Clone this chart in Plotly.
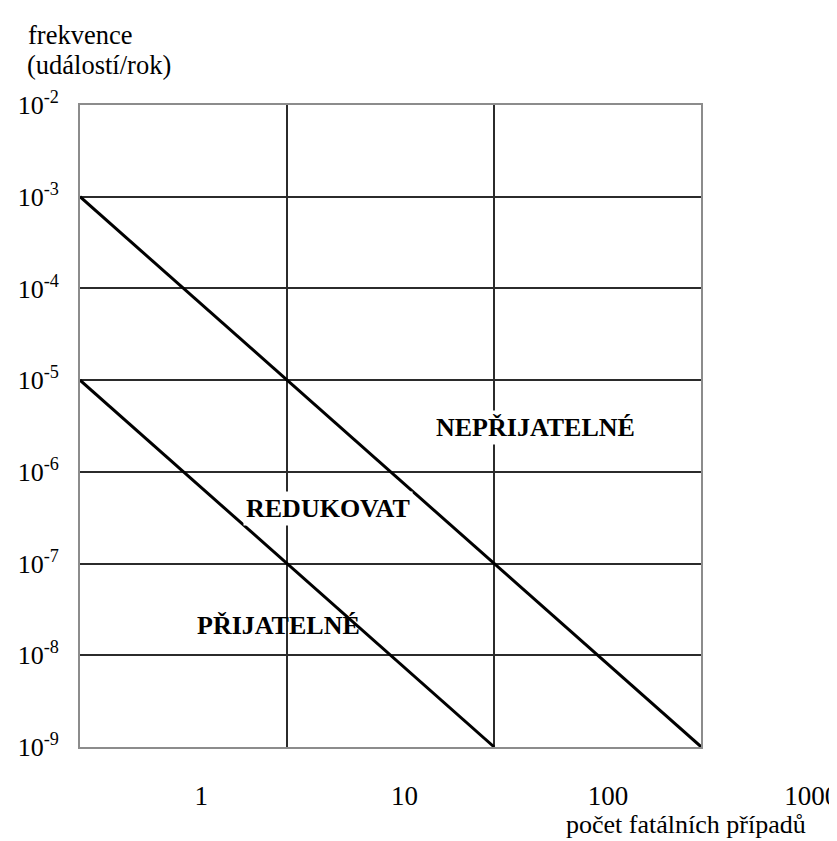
import numpy as np
import plotly.graph_objects as go

# ---------------- data ----------------
x_tick_vals = [1, 10, 100, 1000]
x_tick_text = ["1", "10", "100", "1000"]
x_grid_vals = [10, 100]

y_tick_vals = [1e-9, 1e-8, 1e-7, 1e-6, 1e-5, 1e-4, 1e-3, 1e-2]
y_tick_text = ["10<sup>-9</sup>", "10<sup>-8</sup>", "10<sup>-7</sup>", "10<sup>-6</sup>",
               "10<sup>-5</sup>", "10<sup>-4</sup>", "10<sup>-3</sup>", "10<sup>-2</sup>"]

upper_N = [1, 10, 100, 1000]
upper_F = [1e-3, 1e-5, 1e-7, 1e-9]

lower_N = [1, 10, 100]
lower_F = [1e-5, 1e-7, 1e-9]

region_names = ["NEPŘIJATELNÉ", "REDUKOVAT", "PŘIJATELNÉ"]
region_N = [159, 15.8, 9.1]
region_F = [3.05e-6, 3.94e-7, 2.12e-8]
region_bg = ["white", "white", "rgba(0,0,0,0)"]

# ---------------- figure ----------------
FONT = "Liberation Serif"
W, H = 837, 841
ML, MR, MT, MB = 72, 0, 97, 102
plot_w = W - ML - MR
plot_h = H - MT - MB
bottom_px = H - MB
box_right_px = 693.3
box_frac = (box_right_px - ML) / plot_w

# label axis mapping (tick labels are displaced relative to grid in the original)
lab_one_px, lab_decade_px = 193.3, 203.3
lab_range = [(ML - lab_one_px) / lab_decade_px, (W - MR - lab_one_px) / lab_decade_px]

fig = go.Figure()

fig.add_trace(go.Scatter(x=upper_N, y=upper_F, mode="lines",
                         line=dict(color="black", width=3), cliponaxis=False,
                         xaxis="x", yaxis="y", showlegend=False, hoverinfo="skip"))
fig.add_trace(go.Scatter(x=lower_N, y=lower_F, mode="lines",
                         line=dict(color="black", width=3), cliponaxis=False,
                         xaxis="x", yaxis="y", showlegend=False, hoverinfo="skip"))
# invisible carrier trace for the tick-label axis
fig.add_trace(go.Scatter(x=x_tick_vals, y=[y_tick_vals[0]] * len(x_tick_vals), mode="markers",
                         marker=dict(opacity=0, size=1), xaxis="x2", yaxis="y2",
                         showlegend=False, hoverinfo="skip"))

gridc = "#2b2b2b"
linec = "#8c8c8c"

fig.update_layout(
    width=W, height=H,
    margin=dict(l=ML, r=MR, t=MT, b=MB, pad=0),
    paper_bgcolor="white", plot_bgcolor="rgba(0,0,0,0)",
    font=dict(family=FONT, size=26, color="black"),
    showlegend=False,
    xaxis=dict(type="log", domain=[0, box_frac], range=[0, 3],
               tickvals=x_grid_vals, showticklabels=False, ticks="",
               showgrid=True, gridcolor=gridc, gridwidth=1.6,
               showline=True, mirror=True, linecolor=linec, linewidth=2,
               zeroline=False, anchor="y", automargin=False, fixedrange=True),
    yaxis=dict(type="log", domain=[0, 1], range=[-9, -2],
               tickvals=y_tick_vals, ticktext=y_tick_text, ticks="",
               tickfont=dict(family=FONT, size=26, color="black"),
               ticklabelstandoff=14,
               showgrid=True, gridcolor=gridc, gridwidth=1.6,
               showline=True, mirror=True, linecolor=linec, linewidth=2,
               zeroline=False, anchor="x", automargin=False, fixedrange=True),
    xaxis2=dict(type="log", domain=[0, 1], range=lab_range,
                tickvals=x_tick_vals, ticktext=x_tick_text, ticks="",
                tickfont=dict(family=FONT, size=27, color="black"),
                ticklabelstandoff=30,
                showgrid=False, showline=False, zeroline=False,
                anchor="y2", automargin=False, fixedrange=True),
    yaxis2=dict(type="log", domain=[0, 1], range=[-9, -2],
                showgrid=False, showline=False, showticklabels=False, ticks="",
                zeroline=False, anchor="x2", automargin=False, fixedrange=True),
)

for name, n, f, bg in zip(region_names, region_N, region_F, region_bg):
    fig.add_annotation(x=np.log10(n), y=np.log10(f), xref="x", yref="y",
                       text="<b>" + name + "</b>", showarrow=False,
                       xanchor="center", yanchor="middle",
                       bgcolor=bg, borderpad=2,
                       font=dict(family=FONT, size=26, color="black"))

# axis titles
fig.add_annotation(x=(17.5 - ML) / plot_w, y=(bottom_px - 27) / plot_h, xref="paper", yref="paper",
                   text="frekvence", showarrow=False, xanchor="left", yanchor="middle",
                   font=dict(family=FONT, size=26.5, color="black"))
fig.add_annotation(x=(16.5 - ML) / plot_w, y=(bottom_px - 57) / plot_h, xref="paper", yref="paper",
                   text="(událostí/rok)", showarrow=False, xanchor="left", yanchor="middle",
                   font=dict(family=FONT, size=26.5, color="black"))
fig.add_annotation(x=(677.5 - ML) / plot_w, y=(bottom_px - 816) / plot_h, xref="paper", yref="paper",
                   text="počet fatálních případů", showarrow=False, xanchor="center", yanchor="middle",
                   borderpad=0,
                   font=dict(family=FONT, size=26, color="black"))

fig.write_html("out.html", config={"displayModeBar": False})
